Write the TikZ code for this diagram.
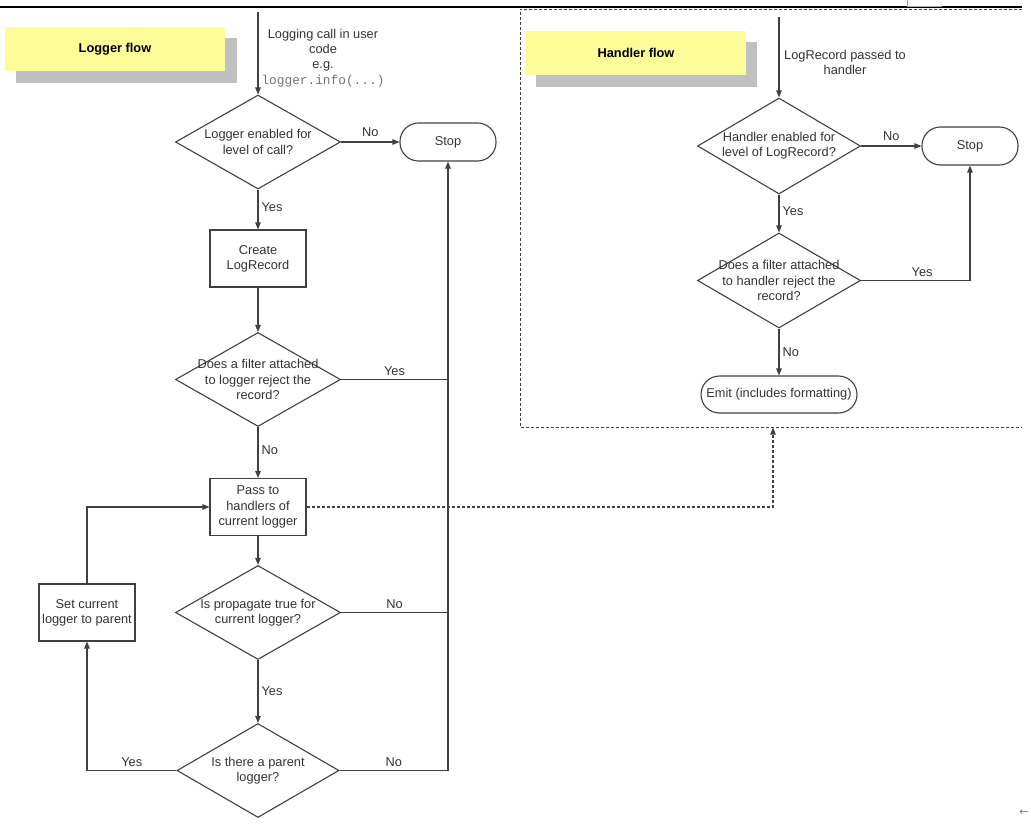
\documentclass[tikz,border=0pt]{standalone}
\usepackage{fontspec}
\setmainfont{Liberation Sans}
\setmonofont{Liberation Mono}
\newfontfamily\symfont{DejaVu Sans}
\usetikzlibrary{arrows.meta,shapes.geometric}
\definecolor{ln}{HTML}{404040}
\definecolor{tx}{HTML}{333333}
\definecolor{yel}{HTML}{FCFC99}
\definecolor{shd}{HTML}{C0C0C0}
\begin{document}
\begin{tikzpicture}[x=1pt,y=-1pt,
  every node/.style={font=\fontsize{12.8}{15.2}\selectfont, text=tx},
  conn/.style={draw=ln, line width=1.1pt},
  arr/.style={conn, -{Triangle[length=7pt,width=5.5pt]}},
  dec/.style={diamond, draw=ln, line width=1.1pt, minimum width=165pt, minimum height=94pt, inner sep=0pt},
  txt/.style={align=center, inner sep=0pt},
  boxstyle/.style={rectangle, draw=ln, line width=1.1pt, minimum width=96pt, minimum height=57pt, align=center, inner sep=0pt},
  term/.style={rectangle, rounded corners=18.5pt, draw=ln, line width=1.1pt, minimum height=38pt, align=center, inner sep=0pt},
  lbl/.style={inner sep=0pt},
  title/.style={fill=yel, minimum width=220pt, minimum height=44pt, inner sep=0pt, font=\fontsize{12.8}{15.2}\selectfont\bfseries, text=black},
  shadow/.style={fill=shd, minimum width=221pt, minimum height=45pt, inner sep=0pt}
]
\useasboundingbox (0,0) rectangle (1031,824);
% top rule and frame fragments
\draw[black, line width=1.6pt] (0,7) -- (1022,7);
\draw[gray!70, line width=0.6pt] (907,0) -- (907,6) -- (942,6);
% handler flow dashed region
\draw[ln, line width=1pt, dash pattern=on 3pt off 2pt] (1022,9.5) -- (520,9.5) -- (520,427) -- (1022,427);

% titles
\node[shadow] (ls) at (126,60.5) {};
\node[title] (lt) at (115,49) {Logger flow};
\node[shadow] (hs) at (646,65) {};
\node[title] (ht) at (636,53) {Handler flow};

% ---------- Logger flow ----------
\coordinate (s1) at (258,12);
\node[txt] (call) at (323,58) {Logging call in user\\code\\e.g.\\{\ttfamily\color{gray!90!black}logger.info(...)}};
\node[dec] (d1) at (258,142) {};
\node[txt] (t1) at (d1) {Logger enabled for\\level of call?};
\node[term, minimum width=96pt] (stop1) at (448,142) {Stop};
\node[boxstyle] (create) at (258,258.5) {Create\\LogRecord};
\node[dec] (d2) at (258,379.5) {};
\node[txt] (t2) at (d2) {Does a filter attached\\to logger reject the\\record?};
\node[boxstyle] (pass) at (258,507) {Pass to\\handlers of\\current logger};
\node[dec] (d3) at (258,612.5) {};
\node[txt] (t3) at (d3) {Is propagate true for\\current logger?};
\node[dec, minimum width=162pt] (d4) at (258,770.5) {};
\node[txt] (t4) at (d4) {Is there a parent\\logger?};
\node[boxstyle] (set) at (87,612.5) {Set current\\logger to parent};

\draw[arr] (s1) -- (d1.north);
\draw[arr] (d1.east) -- (stop1.west) node[lbl, midway, above=5pt] (no1) {No};
\draw[arr] (d1.south) -- (create.north) node[lbl, pos=0.45, right=3pt] (yes1) {Yes};
\draw[arr] (create.south) -- (d2.north);
\draw[conn] (d2.east) -- (d2.east -| stop1.south) node[lbl, midway, above=3pt] (yes2) {Yes};
\draw[arr] (d2.south) -- (pass.north) node[lbl, pos=0.45, right=3pt] (no2) {No};
\draw[arr] (pass.south) -- (d3.north);
\draw[conn] (d3.east) -- (d3.east -| stop1.south) node[lbl, midway, above=3pt] (no3) {No};
\draw[arr] (d3.south) -- (d4.north) node[lbl, pos=0.5, right=3pt] (yes3) {Yes};
\draw[arr] (d4.east) -| (stop1.south) node[lbl, pos=0.25, above=3pt] (no4) {No};
\draw[arr] (d4.west) -| (set.south) node[lbl, pos=0.25, above=3pt] (yes4) {Yes};
\draw[arr] (set.north) |- (pass.west);

% dashed link to handler flow
\coordinate (hb) at (773,427.5);
\draw[draw=ln, line width=1.1pt, dash pattern=on 3pt off 2pt, -{Triangle[length=7pt,width=5.5pt]}] (pass.east) -| (hb);

% ---------- Handler flow ----------
\coordinate (s2) at (779,17);
\node[txt] (rec) at (845,62.5) {LogRecord passed to\\handler};
\node[dec, minimum width=163pt, minimum height=96pt] (h1) at (779,146) {};
\node[txt] (th1) at (h1) {Handler enabled for\\level of LogRecord?};
\node[term, minimum width=96pt] (stop2) at (970,146) {Stop};
\node[dec, minimum width=163pt, minimum height=95pt] (h2) at (779,280.5) {};
\node[txt] (th2) at (h2) {Does a filter attached\\to handler reject the\\record?};
\node[term, minimum width=156pt, minimum height=37pt] (emit) at (779,394.5) {Emit (includes formatting)};

\draw[arr] (s2) -- (h1.north);
\draw[arr] (h1.east) -- (stop2.west) node[lbl, midway, above=5pt] (no5) {No};
\draw[arr] (h1.south) -- (h2.north) node[lbl, pos=0.45, right=3pt] (yes5) {Yes};
\draw[arr] (h2.east) -| (stop2.south) node[lbl, pos=0.28, above=3pt] (yes6) {Yes};
\draw[arr] (h2.south) -- (emit.north) node[lbl, pos=0.5, right=3pt] (no6) {No};

% corner glyph
\node[inner sep=0pt, text=gray, font=\symfont\fontsize{11}{12}\selectfont] (corner) at (1024,813) {←};
\end{tikzpicture}
\end{document}
